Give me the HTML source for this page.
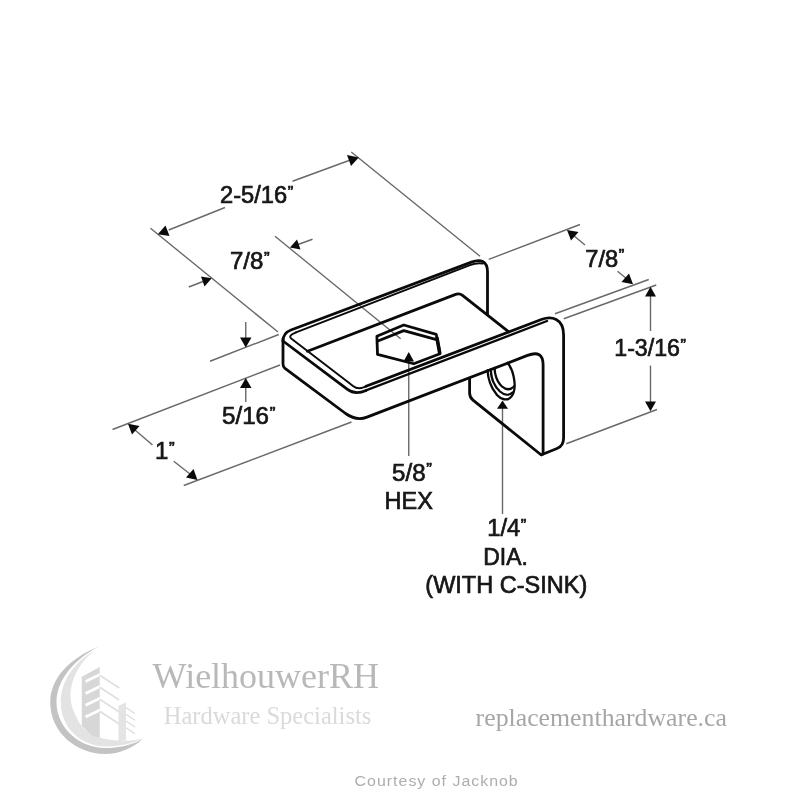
<!DOCTYPE html>
<html>
<head>
<meta charset="utf-8">
<title>Bracket dimensions</title>
<style>
  html, body { margin: 0; padding: 0; background: #ffffff; }
  body { width: 800px; height: 800px; overflow: hidden; font-family: "Liberation Sans", sans-serif; }
  svg { display: block; position: absolute; left: 0; top: 0; will-change: transform; filter: blur(0.4px); }
  .thin { fill: none; stroke: #686868; stroke-width: 1.4; }
  .thick { fill: none; stroke: #0a0a0a; stroke-width: 2.8; stroke-linecap: round; stroke-linejoin: round; }
  .med { fill: none; stroke: #0a0a0a; stroke-width: 1.9; stroke-linecap: round; stroke-linejoin: round; }
  .arrow { fill: #0a0a0a; stroke: none; }
  .dim { font-family: "Liberation Sans", sans-serif; font-size: 24px; fill: #161616; stroke: #161616; stroke-width: 0.7; }
  .serif { font-family: "Liberation Serif", serif; }
</style>
</head>
<body>
<svg width="800" height="800" viewBox="0 0 800 800">

  <!-- ===== thin extension / dimension lines ===== -->
  <g class="thin">
    <!-- 2-5/16 extension lines -->
    <path d="M150.5,228.3 L278,332"/>
    <path d="M351.25,152 L480,256.25"/>
    <!-- 2-5/16 dimension line -->
    <path d="M168.75,230 L225,207.5"/>
    <path d="M292.5,181.25 L349,160.5"/>
    <!-- hex centre extension line -->
    <path d="M275,236.25 L400.6,338.75"/>
    <!-- 7/8 left arrows tails -->
    <path d="M188.75,287 L203,281.5"/>
    <path d="M298,244.5 L312.5,239.25"/>
    <!-- 5/16 extension lines -->
    <path d="M210,361.25 L278.75,334.5"/>
    <path d="M112.5,429.5 L280,365"/>
    <!-- 5/16 arrows stems -->
    <path d="M245.75,322 L245.75,338"/>
    <path d="M245.75,388 L245.75,402"/>
    <!-- 1" extension line -->
    <path d="M183.75,485.5 L351.5,422"/>
    <!-- 1" dim -->
    <path d="M135,430 L152.5,445"/>
    <path d="M173.75,461.25 L190,474"/>
    <!-- right side extension lines -->
    <path d="M488.75,259.4 L580,224.5"/>
    <path d="M555,313.75 L648.75,279.5"/>
    <path d="M563.75,318.75 L656.25,285"/>
    <path d="M566.25,443.75 L657,409.5"/>
    <!-- right 7/8 dim -->
    <path d="M573,235 L585,245"/>
    <path d="M617.5,271.25 L627,279"/>
    <!-- 1-3/16 dim -->
    <path d="M650.5,296 L650.5,331"/>
    <path d="M650.5,365.6 L650.5,402"/>
    <!-- leaders -->
    <path d="M408.75,360 L408.75,456"/>
    <path d="M502.5,408 L502.5,514"/>
  </g>

  <!-- ===== arrow heads ===== -->
  <g class="arrow">
    <!-- 2-5/16 left (points down-left) -->
    <polygon points="157.75,234.2 165.5,225.4 169.5,236"/>
    <!-- 2-5/16 right (points up-right) -->
    <polygon points="358.75,157.5 347,155 351,166"/>
    <!-- 7/8 left pair -->
    <polygon points="211.75,278.25 201,276.5 204.5,286.5"/>
    <polygon points="290,247.5 300.5,249.5 297,239.5"/>
    <!-- 5/16 vertical pair -->
    <polygon points="245.75,347.5 240,337.5 251.5,337.5"/>
    <polygon points="245.75,378 240,388 251.5,388"/>
    <!-- 1" pair -->
    <polygon points="128,423.75 139.5,426 132,434.5"/>
    <polygon points="197.5,480 186,477.5 193.5,469"/>
    <!-- right 7/8 pair -->
    <polygon points="567,230 578.5,232 571,240.5"/>
    <polygon points="633,284.25 621.5,282 629,273.5"/>
    <!-- 1-3/16 pair -->
    <polygon points="650.5,286.75 645,296.5 656,296.5"/>
    <polygon points="650.5,411.25 645,401.5 656,401.5"/>
    <!-- leaders -->
    <polygon points="408.75,351.9 403.5,361.5 414,361.5"/>
    <polygon points="502.5,400.6 497,408.75 508,408.75"/>
  </g>

  <!-- ===== bracket ===== -->
  <g class="thick">
    <!-- outer silhouette of horizontal plate, runs into inner rect of front plate -->
    <path d="M283,339 L283,364 Q283,366.8 285,368.4 L345.6,413.5 Q356.6,421.3 367,417.1 L527.5,355.4 Q543.1,349.4 543.1,365 L543.1,454"/>
    <!-- top (back) edge + back plate corner + vertical -->
    <path d="M283,341 Q283,333 291,330 L471.5,262.1 C480,258.9 487.5,260.5 487.5,272 L487.5,314.5"/>
    <!-- near-left top face edge + front edge lower line -->
    <path d="M283,341 L347.5,389.4 Q355.5,395.4 366,390.4"/>
    <!-- lower wall under the plate -->
    <path d="M469.6,379 L469.6,393 Q469.6,397.4 473,400.2 L541,454.75"/>
    <!-- inner ledge line -->
    <path d="M307.5,351.25 L455,294.6 Q459.5,293 462.5,295.4 L508.75,331.9"/>
    <!-- hexagon -->
    <path d="M376.9,336.25 L403.75,325 L436.25,334.4 L440,353.75 L413.75,363.75 L377.5,354.4 Z"/>
    <path d="M378.5,340.8 L403.75,330.6 L436.5,339.6"/>
    <path d="M437,338 L439.6,352.5" style="stroke-width:3.6"/>
  </g>
  <path class="thick" style="stroke-width:2.3" d="M366,390.4 L547,321"/>
  <!-- front plate outer (continues from bevel line) -->
  <path class="thick" style="stroke-width:2.8" d="M366,386.3 L542,319.3 C551,315.9 563.6,318 563.6,335 L563.6,438 Q563.6,446 557,448.5 L541.5,454.75"/>
  <g class="med">
    <!-- bevel inner line on top face -->
    <path d="M296,332.3 L470,265.2 Q477,262.4 483,263.6"/>
    <path d="M296,332.3 Q287.6,335.6 291.5,338.8 L353,385.9 Q357.6,389.6 363.5,387.3 L366,386.3"/>
  </g>

  <!-- hole -->
  <g class="med" id="hole" style="stroke-width:2.3">
    <path d="M487.5,370.5 C488,378 491,388 497,395 C501,399.5 507,401 510.5,397.5 C514.5,393.5 515.5,385 513.5,376 C512.5,371 510.5,366.5 507.5,362.8"/>
    <path d="M490.8,369.4 C491,377 494,386 500,391.5 C504,395 509,396 512.5,392.5"/>
    <path d="M494.6,368 C494.5,374 497,382 502,386.5 C506,390 510.5,390 514,386.5"/>
  </g>

  <!-- ===== dimension text ===== -->
  <g class="dim">
    <text transform="translate(220.01,203.00) scale(0.9877,1)">2-5/16<tspan font-size="17" dy="-5.4" dx="0.6">”</tspan></text>
    <text transform="translate(230.00,269.00) scale(1.0000,1)">7/8<tspan font-size="17" dy="-5.4" dx="0.6">”</tspan></text>
    <text transform="translate(221.99,424.00) scale(1.0077,1)">5/16<tspan font-size="17" dy="-5.4" dx="0.6">”</tspan></text>
    <text transform="translate(155.10,459.00) scale(1.0000,1)">1<tspan font-size="17" dy="-5.4" dx="0.6">”</tspan></text>
    <text transform="translate(585.26,266.80) scale(0.9868,1)">7/8<tspan font-size="17" dy="-5.4" dx="0.6">”</tspan></text>
    <text transform="translate(614.23,356.30) scale(0.9671,1)">1-3/16<tspan font-size="17" dy="-5.4" dx="0.6">”</tspan></text>
    <text transform="translate(392.10,480.60) scale(1.0039,1)">5/8<tspan font-size="17" dy="-5.4" dx="0.6">”</tspan></text>
    <text transform="translate(384.54,508.75) scale(0.9787,1)">HEX</text>
    <text transform="translate(487.21,536.20) scale(0.9882,1)">1/4<tspan font-size="17" dy="-5.4" dx="0.6">”</tspan></text>
    <text transform="translate(483.35,564.70) scale(0.9523,1)">DIA.</text>
    <text transform="translate(425.32,592.90) scale(0.9798,1)">(WITH C-SINK)</text>
  </g>

  <!-- ===== footer / logo ===== -->
  <g id="logo">
    <path fill="#c3c3c3" d="M99,646.5 C70,658 50,678 50.25,703 C50.5,732 76,754 105,754 C120,754 133,748 143,738.5 C132,745.5 118,748 105,748 C80,748 57,728.5 56.5,703 C56.2,681 73,660 99,646.5 Z"/>
    <path fill="#e3e3e3" d="M94.5,650.5 C75,662 60.5,680 60.75,703 C61,727 80,746 105,746.5 C120,746.8 133,743 143,738.5 C130,742 117,741 105,739 C93,736 83,730 79.5,723 C74,713 69.5,703 70.5,692.5 C72,676 81,661 94.5,650.5 Z"/>
    <!-- left tower -->
    <path fill="#d7d7d7" d="M81.75,676.75 L99.75,667 L99.75,738 L92,735.5 L81.75,726 Z"/>
    <g stroke="#ffffff" stroke-width="2.8" fill="none">
      <path d="M85.5,681.60 L100,674.60"/>
      <path d="M85.5,693.40 L100,686.40"/>
      <path d="M85.5,705.20 L100,698.20"/>
      <path d="M85.5,717.00 L100,710.00"/>
    </g>
    <g stroke="#dedede" stroke-width="1.5" fill="none">
      <path d="M99.75,675.25 L119.25,688"/>
      <path d="M99.75,687.25 L119.25,700"/>
      <path d="M99.75,699.25 L119.25,712"/>
      <path d="M99.75,711.25 L119.25,724"/>
      <path d="M126,707.5 L135,713.5"/>
      <path d="M126,714.25 L135,720.25"/>
      <path d="M126,721 L135,727"/>
      <path d="M126,727.75 L135,733.75"/>
    </g>
    <!-- right tower -->
    <path fill="#e4e4e4" d="M118.5,706 L126,702.25 L126,740.5 L118.5,741 Z"/>
  </g>
  <g opacity="0.995">
  <text class="serif" x="152.6" y="688" font-size="36" fill="#b8b8b8">WielhouwerRH</text>
  <text class="serif" x="163.8" y="724.4" font-size="24.5" fill="#dadada">Hardware Specialists</text>
  <text class="serif" x="475.6" y="726" font-size="25.8" fill="#a6a6a6">replacementhardware.ca</text>
  <text transform="translate(354.6,786) scale(1.1,1)" font-size="14.5" fill="#adadad" font-family="Liberation Sans, sans-serif" letter-spacing="0.9">Courtesy of Jacknob</text>
  </g>
</svg>
</body>
</html>
